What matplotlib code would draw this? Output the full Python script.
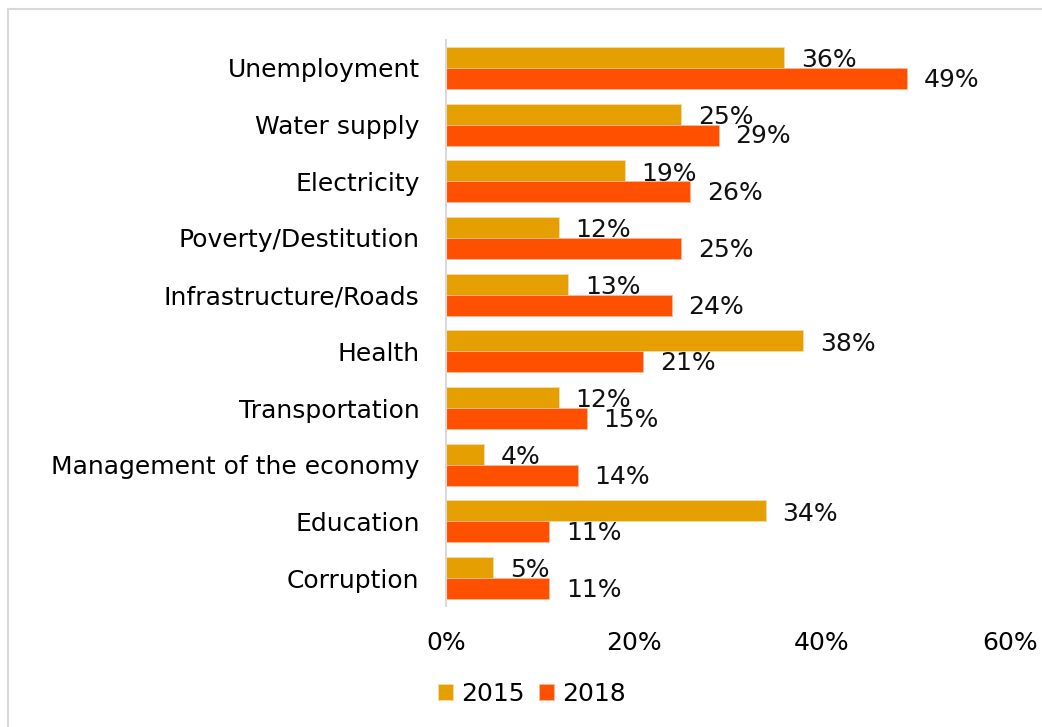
import matplotlib
matplotlib.use("Agg")
import matplotlib.pyplot as plt
from matplotlib.lines import Line2D

categories = [
    "Unemployment",
    "Water supply",
    "Electricity",
    "Poverty/Destitution",
    "Infrastructure/Roads",
    "Health",
    "Transportation",
    "Management of the economy",
    "Education",
    "Corruption",
]
values_2015 = [36, 25, 19, 12, 13, 38, 12, 4, 34, 5]
values_2018 = [49, 29, 26, 25, 24, 21, 15, 14, 11, 11]
series_labels = ["2015", "2018"]
x_ticks = [0, 20, 40, 60]

color_2015 = "#E69F00"
color_2018 = "#FF5000"

plt.rcParams["font.family"] = ["DejaVu Sans"]
fs = 18

fig = plt.figure(figsize=(10.42, 7.27), dpi=100)
ax = fig.add_axes([446 / 1042, 1 - 606.4 / 727, (1010 - 446) / 1042, (606.4 - 39.6) / 727])

n = len(categories)
pos = list(range(n))
h = 0.37
b1 = ax.barh([p - h / 2 for p in pos], values_2015, height=h, color=color_2015,
             edgecolor="#F5D9A8", linewidth=0.6, label=series_labels[0])
b2 = ax.barh([p + h / 2 for p in pos], values_2018, height=h, color=color_2018,
             edgecolor="#FFB899", linewidth=0.6, label=series_labels[1])

for p, v in zip(pos, values_2015):
    ax.annotate(f"{v}%", xy=(v, p - h / 2), xytext=(12, -2), textcoords="offset points",
                ha="left", va="center", fontsize=fs, color="#111111")
for p, v in zip(pos, values_2018):
    ax.annotate(f"{v}%", xy=(v, p + h / 2), xytext=(12, -1), textcoords="offset points",
                ha="left", va="center", fontsize=fs, color="#111111")

ax.set_xlim(0, 60)
ax.set_ylim(n - 0.5, -0.5)
ax.set_yticks(pos)
ax.set_yticklabels(categories, fontsize=fs)
ax.set_xticks(x_ticks)
ax.set_xticklabels([f"{t}%" for t in x_ticks], fontsize=fs)
ax.tick_params(axis="both", length=0)
ax.tick_params(axis="y", pad=19)
ax.tick_params(axis="x", pad=18)
for s in ["top", "right", "bottom"]:
    ax.spines[s].set_visible(False)
ax.spines["left"].set_color("#D9D9D9")
ax.spines["left"].set_linewidth(1.5)

fig.legend(handles=[b1, b2], labels=series_labels, loc="center",
           bbox_to_anchor=(532 / 1042, 1 - 694 / 727), ncol=2, frameon=False,
           fontsize=fs, handlelength=0.6, handleheight=0.6, handletextpad=0.3,
           columnspacing=0.6)

# Light frame along the top and left edges
fig.add_artist(Line2D([8 / 1042, 8 / 1042], [0, 1 - 9 / 727], color="#D9D9D9", lw=1.5,
                      transform=fig.transFigure))
fig.add_artist(Line2D([8 / 1042, 1], [1 - 9 / 727, 1 - 9 / 727], color="#D9D9D9", lw=1.5,
                      transform=fig.transFigure))

fig.savefig("out.png", dpi=100)
